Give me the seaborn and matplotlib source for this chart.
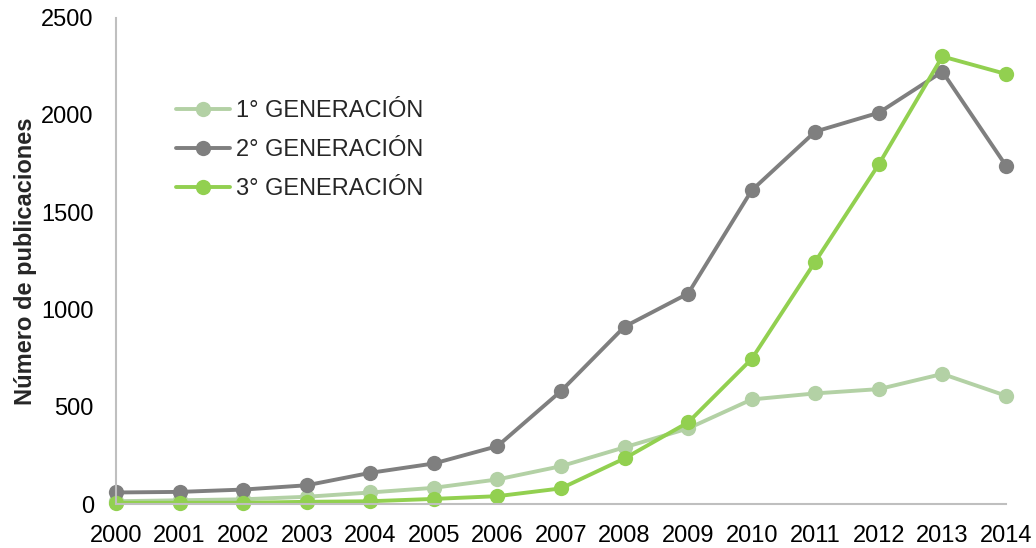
import matplotlib
matplotlib.use("Agg")
import matplotlib.pyplot as plt
import seaborn as sns
import pandas as pd

years = list(range(2000, 2015))
gen1 = [15, 20, 25, 38, 60, 84, 127, 195, 292, 389, 538, 569, 591, 669, 557]
gen2 = [60, 63, 75, 97, 161, 209, 298, 581, 912, 1082, 1612, 1914, 2011, 2222, 1739]
gen3 = [7, 7, 7, 12, 15, 27, 41, 81, 235, 420, 746, 1246, 1746, 2300, 2210]
series_names = ["1° GENERACIÓN", "2° GENERACIÓN", "3° GENERACIÓN"]
colors = ["#B3D1A5", "#7F7F7F", "#92D050"]
y_ticks = [0, 500, 1000, 1500, 2000, 2500]

df = pd.DataFrame({
    "year": years * 3,
    "value": gen1 + gen2 + gen3,
    "series": [series_names[0]] * len(years) + [series_names[1]] * len(years) + [series_names[2]] * len(years),
})

sns.set_style("white")
plt.rcParams["font.family"] = ["Liberation Sans", "DejaVu Sans"]

fig = plt.figure(figsize=(10.36, 5.48), dpi=100)
ax = fig.add_axes([0.112, 0.080, 0.859, 0.888])

sns.lineplot(data=df, x="year", y="value", hue="series", hue_order=series_names,
             palette=colors, marker="o", markersize=11, markeredgewidth=0,
             linewidth=2.8, ax=ax, legend=True)
for line in ax.lines:
    line.set_clip_on(False)

ax.set_xlim(2000, 2014)
ax.set_ylim(0, 2500)
ax.set_xticks(years)
ax.set_xticklabels([str(y) for y in years])
ax.set_yticks(y_ticks)
ax.tick_params(axis="both", length=0, labelsize=17, colors="black")
ax.tick_params(axis="y", pad=16)
ax.tick_params(axis="x", pad=15)

for side in ["top", "right"]:
    ax.spines[side].set_visible(False)
for side in ["left", "bottom"]:
    ax.spines[side].set_color("#BFBFBF")
    ax.spines[side].set_linewidth(1.5)

ax.set_xlabel("")
ax.set_ylabel("Número de publicaciones", fontsize=17, fontweight="bold", labelpad=3)

handles, labels = ax.get_legend_handles_labels()
ax.legend(handles, labels, loc="upper left", bbox_to_anchor=(176 / 1036, 1 - 100 / 548),
          bbox_transform=fig.transFigure, frameon=False, fontsize=17,
          handlelength=2.3, handletextpad=0.25, labelspacing=0.72, borderaxespad=0,
          borderpad=0)

fig.savefig("out.png", dpi=100)
